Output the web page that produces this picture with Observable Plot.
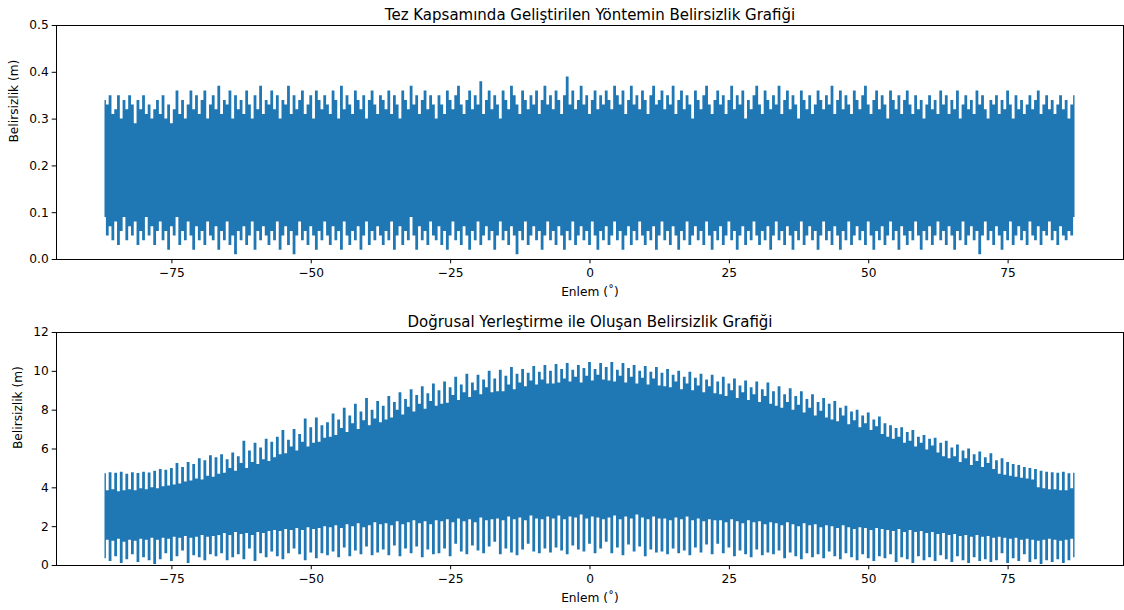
<!DOCTYPE html>
<html>
<head>
<meta charset="utf-8">
<script src="https://cdn.jsdelivr.net/npm/d3@7"></script>
<script src="https://cdn.jsdelivr.net/npm/@observablehq/plot@0.6"></script>
<style>
  html, body { margin: 0; padding: 0; background: #fff; }
  svg { display: block; }
</style>
</head>
<body>
<script>
// Latitude range covered by both uncertainty series (degrees)
const latStart = -87;
const latEnd = 87;

const xTicks = [-75, -50, -25, 0, 25, 50, 75];
const methodYTicks = [0, 0.1, 0.2, 0.3, 0.4, 0.5];
const linearYTicks = [0, 2, 4, 6, 8, 10, 12];

// Developed method: local maxima and minima of the uncertainty (m), every 0.5°
const methodPeakHigh = [
  0.34,0.33,0.35,0.31,0.32,0.35,0.30,0.34,0.32,0.35,0.33,0.29,0.34,0.32,0.35,0.31,0.33,0.30,0.32,0.34,
  0.31,0.35,0.30,0.33,0.29,0.32,0.36,0.31,0.34,0.30,0.33,0.36,0.32,0.35,0.31,0.34,0.36,0.30,0.33,0.35,
  0.32,0.37,0.31,0.34,0.33,0.36,0.30,0.35,0.32,0.34,0.31,0.36,0.33,0.30,0.35,0.32,0.37,0.31,0.34,0.33,
  0.36,0.32,0.35,0.30,0.34,0.33,0.37,0.31,0.35,0.32,0.34,0.36,0.31,0.33,0.35,0.30,0.36,0.34,0.32,0.35,
  0.33,0.31,0.36,0.34,0.30,0.37,0.32,0.35,0.33,0.31,0.36,0.34,0.32,0.35,0.30,0.34,0.36,0.33,0.31,0.35,
  0.34,0.32,0.36,0.31,0.35,0.33,0.30,0.36,0.34,0.32,0.37,0.33,0.35,0.31,0.34,0.36,0.32,0.35,0.33,0.30,
  0.35,0.33,0.31,0.36,0.34,0.32,0.35,0.37,0.33,0.31,0.34,0.36,0.32,0.35,0.33,0.38,0.31,0.34,0.36,0.32,
  0.35,0.33,0.30,0.36,0.34,0.32,0.37,0.35,0.33,0.31,0.36,0.34,0.32,0.35,0.33,0.36,0.31,0.34,0.37,0.33,
  0.35,0.32,0.36,0.34,0.31,0.35,0.39,0.33,0.36,0.32,0.34,0.37,0.33,0.35,0.31,0.34,0.36,0.32,0.35,0.33,
  0.36,0.34,0.32,0.37,0.35,0.33,0.36,0.31,0.34,0.37,0.33,0.35,0.32,0.36,0.34,0.31,0.35,0.37,0.33,0.34,
  0.36,0.32,0.35,0.33,0.37,0.31,0.34,0.36,0.32,0.35,0.33,0.30,0.36,0.34,0.32,0.35,0.37,0.33,0.31,0.34,
  0.36,0.33,0.35,0.31,0.34,0.37,0.32,0.35,0.33,0.36,0.30,0.34,0.32,0.35,0.37,0.33,0.31,0.36,0.34,0.32,
  0.35,0.33,0.37,0.31,0.34,0.36,0.32,0.35,0.33,0.30,0.36,0.34,0.32,0.35,0.31,0.33,0.36,0.34,0.32,0.35,
  0.33,0.37,0.31,0.34,0.36,0.32,0.35,0.33,0.31,0.36,0.34,0.32,0.35,0.37,0.33,0.31,0.34,0.36,0.32,0.35,
  0.33,0.30,0.36,0.34,0.32,0.35,0.31,0.34,0.36,0.33,0.31,0.35,0.32,0.34,0.30,0.33,0.35,0.32,0.34,0.31,
  0.36,0.33,0.35,0.31,0.34,0.32,0.36,0.30,0.33,0.35,0.32,0.34,0.31,0.36,0.33,0.35,0.32,0.30,0.34,0.33,
  0.35,0.31,0.34,0.32,0.36,0.33,0.30,0.35,0.32,0.34,0.31,0.33,0.35,0.32,0.34,0.36,0.31,0.33,0.35,0.32,
  0.34,0.31,0.33,0.35,0.32,0.34,0.30,0.33,0.35
];
const methodPeakLow = [
  0.09,0.05,0.07,0.04,0.08,0.03,0.06,0.09,0.04,0.07,0.05,0.08,0.03,0.06,0.04,0.09,0.05,0.07,0.03,0.06,
  0.08,0.04,0.06,0.02,0.07,0.05,0.09,0.03,0.06,0.04,0.08,0.05,0.02,0.07,0.04,0.06,0.03,0.08,0.05,0.04,
  0.07,0.02,0.06,0.04,0.08,0.03,0.05,0.01,0.06,0.04,0.07,0.03,0.05,0.08,0.02,0.06,0.04,0.07,0.05,0.03,
  0.06,0.04,0.08,0.02,0.05,0.07,0.03,0.06,0.01,0.05,0.08,0.04,0.06,0.03,0.07,0.05,0.02,0.06,0.04,0.08,
  0.05,0.03,0.07,0.04,0.06,0.02,0.08,0.05,0.03,0.06,0.04,0.07,0.02,0.05,0.08,0.03,0.06,0.04,0.07,0.05,
  0.03,0.06,0.04,0.08,0.02,0.05,0.07,0.03,0.06,0.04,0.09,0.05,0.02,0.07,0.04,0.06,0.03,0.08,0.05,0.04,
  0.07,0.03,0.06,0.02,0.05,0.08,0.04,0.06,0.03,0.07,0.05,0.02,0.06,0.04,0.08,0.03,0.05,0.07,0.04,0.06,
  0.02,0.05,0.08,0.04,0.06,0.03,0.07,0.05,0.01,0.06,0.04,0.08,0.03,0.05,0.07,0.04,0.06,0.02,0.05,0.08,
  0.04,0.06,0.03,0.07,0.05,0.02,0.06,0.04,0.08,0.03,0.05,0.07,0.04,0.06,0.03,0.08,0.05,0.02,0.06,0.04,
  0.07,0.03,0.05,0.08,0.04,0.06,0.02,0.05,0.07,0.03,0.06,0.04,0.08,0.05,0.03,0.06,0.04,0.07,0.02,0.05,
  0.08,0.04,0.06,0.03,0.07,0.05,0.02,0.06,0.04,0.08,0.03,0.05,0.07,0.04,0.06,0.03,0.08,0.05,0.02,0.06,
  0.04,0.07,0.03,0.05,0.08,0.04,0.06,0.02,0.05,0.07,0.03,0.06,0.04,0.08,0.05,0.03,0.06,0.04,0.07,0.02,
  0.05,0.08,0.04,0.06,0.03,0.07,0.05,0.02,0.06,0.04,0.08,0.03,0.05,0.07,0.04,0.06,0.02,0.05,0.08,0.04,
  0.06,0.03,0.07,0.05,0.02,0.06,0.04,0.08,0.03,0.05,0.07,0.04,0.06,0.03,0.08,0.05,0.02,0.06,0.04,0.07,
  0.03,0.05,0.08,0.04,0.06,0.02,0.07,0.05,0.03,0.06,0.04,0.08,0.05,0.02,0.06,0.04,0.07,0.03,0.05,0.08,
  0.04,0.06,0.03,0.07,0.05,0.02,0.06,0.04,0.08,0.03,0.05,0.07,0.04,0.06,0.01,0.05,0.08,0.04,0.06,0.03,
  0.07,0.05,0.02,0.06,0.04,0.08,0.03,0.05,0.07,0.04,0.06,0.03,0.08,0.05,0.04,0.07,0.03,0.06,0.05,0.08,
  0.04,0.06,0.03,0.07,0.05,0.04,0.06,0.05,0.09
];

// Linear placement: local maxima and minima of the uncertainty (m), every 0.5°
const linearPeakHigh = [
  4.72,3.85,4.78,3.90,4.75,3.80,4.80,3.85,4.70,3.90,4.78,3.85,4.74,3.95,4.80,3.90,4.76,4.00,4.85,3.95,
  4.95,4.05,4.90,4.10,5.00,4.15,5.25,4.20,5.05,4.30,5.30,4.35,5.20,4.45,5.50,4.40,5.40,4.60,5.65,4.55,
  5.55,4.70,5.70,4.75,5.45,5.00,5.80,4.85,5.60,5.25,6.40,5.00,5.90,5.30,6.30,5.20,6.05,5.45,6.50,5.35,
  6.35,5.55,6.60,5.70,6.95,5.75,6.45,6.10,7.00,5.90,6.75,6.35,7.55,6.10,7.10,6.30,7.60,6.35,7.20,6.55,
  7.35,6.60,7.80,6.70,7.50,7.05,8.10,6.85,7.70,7.30,8.30,7.00,7.90,7.45,8.60,7.20,8.00,7.55,8.45,7.35,
  8.20,7.50,8.70,7.60,8.40,8.00,8.90,7.75,8.55,8.15,9.05,7.90,8.75,8.30,9.20,8.05,8.85,8.45,9.35,8.20,
  9.00,8.30,9.45,8.35,9.15,8.75,9.70,8.50,9.30,8.90,9.85,8.65,9.40,9.00,9.80,8.80,9.55,9.15,10.00,8.90,
  9.60,8.95,10.05,8.95,9.75,9.30,10.20,9.05,9.85,9.40,10.10,9.20,9.90,9.50,10.25,9.30,9.95,9.55,10.30,9.35,
  10.00,9.35,10.35,9.40,10.10,9.60,10.40,9.45,10.05,9.70,10.30,9.40,10.15,9.75,10.45,9.50,10.10,9.80,10.40,9.55,
  10.20,9.50,10.45,9.45,10.05,9.75,10.40,9.40,10.15,9.70,10.30,9.35,10.00,9.65,10.25,9.30,9.95,9.60,10.20,9.25,
  9.90,9.20,10.10,9.15,9.80,9.45,10.00,9.05,9.70,9.35,9.95,9.00,9.65,9.25,9.85,8.90,9.55,9.20,9.80,8.85,
  9.45,8.80,9.70,8.70,9.35,9.00,9.60,8.60,9.25,8.90,9.50,8.50,9.15,8.80,9.45,8.40,9.05,8.70,9.40,8.30,
  8.95,8.20,9.20,8.10,8.80,8.40,9.10,8.00,8.70,8.25,8.95,7.85,8.55,8.10,8.80,7.70,8.40,7.95,8.60,7.60,
  8.30,7.50,8.45,7.40,8.10,7.70,8.20,7.25,7.90,7.45,8.00,7.10,7.70,7.30,7.85,6.95,7.50,7.15,7.65,6.75,
  7.30,6.60,7.20,6.50,7.05,6.60,7.10,6.30,6.85,6.40,6.95,6.10,6.60,6.30,6.70,5.95,6.50,6.15,6.55,5.80,
  6.30,5.60,6.40,5.50,6.05,5.60,6.20,5.30,5.90,5.50,6.00,5.15,5.70,5.35,5.85,5.05,5.55,5.25,5.75,4.95,
  5.40,4.70,5.50,4.65,5.30,4.60,5.20,4.55,5.15,4.50,5.05,4.45,5.00,4.40,4.95,4.00,4.85,3.95,4.80,3.90,
  4.78,3.90,4.75,3.85,4.80,3.85,4.72,3.95,4.75
];
const linearPeakLow = [
  0.35,1.30,0.20,1.25,0.45,1.35,0.10,1.20,0.30,1.30,0.55,1.25,0.15,1.35,0.40,1.30,0.25,1.40,0.05,1.30,
  0.30,1.40,0.60,1.35,0.20,1.45,0.45,1.40,0.75,1.50,0.10,1.40,0.50,1.45,0.40,1.55,0.25,1.45,0.55,1.50,
  0.45,1.55,0.60,1.65,0.25,1.55,0.40,1.70,0.55,1.60,0.30,1.65,0.85,1.55,0.20,1.70,0.60,1.65,0.40,1.75,
  0.70,1.80,0.45,1.75,0.30,1.85,0.60,1.80,0.85,1.90,0.55,1.80,0.25,1.95,0.65,1.85,0.35,1.90,0.60,2.00,
  0.50,1.95,0.70,2.05,0.40,1.90,0.90,2.10,0.45,2.00,0.75,2.15,0.55,1.95,0.95,2.05,0.50,2.20,0.65,2.10,
  0.80,2.15,0.50,2.05,1.00,2.25,0.45,2.10,0.85,2.20,0.60,2.30,0.95,2.15,0.40,2.25,0.80,2.10,0.55,2.30,
  0.60,2.25,0.85,2.35,0.45,2.20,1.10,2.40,0.70,2.25,0.55,2.35,1.00,2.20,0.75,2.45,0.60,2.30,0.95,2.35,
  1.20,2.40,0.55,2.30,0.85,2.50,0.65,2.35,0.50,2.45,0.80,2.30,1.10,2.55,0.70,2.40,0.60,2.35,0.85,2.50,
  0.65,2.40,0.90,2.55,0.75,2.35,0.55,2.50,1.00,2.45,0.80,2.60,0.70,2.40,1.10,2.50,0.60,2.45,0.85,2.35,
  1.20,2.45,0.60,2.55,0.90,2.35,0.50,2.50,1.05,2.40,0.70,2.60,0.95,2.45,0.45,2.35,0.80,2.50,0.65,2.40,
  0.70,2.40,0.55,2.30,0.85,2.45,0.60,2.35,0.75,2.50,0.50,2.30,0.90,2.40,0.65,2.25,1.05,2.35,0.55,2.30,
  1.10,2.30,0.60,2.20,0.90,2.35,0.45,2.25,0.75,2.15,0.55,2.30,0.40,2.20,0.80,2.25,0.50,2.10,0.65,2.20,
  0.55,2.15,0.75,2.05,0.35,2.20,0.65,2.10,0.45,2.00,0.30,2.15,0.60,2.05,0.40,2.10,0.55,1.95,0.35,2.05,
  0.70,2.00,0.45,1.90,0.30,2.05,0.60,1.95,0.40,1.85,0.25,1.95,0.55,1.90,0.35,1.80,0.20,1.90,0.45,1.85,
  0.35,1.80,0.55,1.75,0.15,1.85,0.40,1.70,0.30,1.80,0.10,1.70,0.45,1.75,0.25,1.65,0.40,1.70,0.20,1.60,
  0.50,1.65,0.30,1.55,0.15,1.60,0.45,1.50,0.25,1.55,0.10,1.45,0.40,1.55,0.20,1.45,0.30,1.50,0.15,1.40,
  0.25,1.45,0.60,1.40,0.10,1.35,0.35,1.40,0.20,1.30,0.55,1.35,0.15,1.30,0.30,1.25,0.05,1.30,0.25,1.35,
  0.15,1.30,0.30,1.25,0.10,1.30,0.25,1.35,0.40
];

const lineColor = "#1f77b4";
const fontFamily = "DejaVu Sans";

// Spread a value list evenly over the latitude range
function sampled(high, low) {
  const n = high.length;
  return high.map((h, i) => ({
    lat: latStart + i * (latEnd - latStart) / (n - 1),
    hi: h,
    lo: low[i]
  }));
}

const minusFormat = d => (d < 0 ? "\u2212" + Math.abs(d) : String(d));

function panel({title, peakHigh, peakLow, yDomain, yTicks, yFormat, yLabelDx, marginTop, marginBottom}) {
  const samples = sampled(peakHigh, peakLow);
  return Plot.plot({
    width: 1124,
    height: 305,
    marginLeft: 56,
    marginRight: 1,
    marginTop,
    marginBottom,
    style: {fontFamily, fontSize: "12.2px", color: "black", background: "white", overflow: "visible"},
    x: {domain: [-95.7, 95.7], ticks: xTicks, tickFormat: minusFormat, tickSize: 4.3, tickPadding: 5, label: null},
    y: {domain: yDomain, ticks: yTicks, tickFormat: yFormat, tickSize: 4.3, tickPadding: 3.5, label: null},
    marks: [
      // oscillation envelope: each 0.5° sample spans its minimum to its maximum
      Plot.areaY(samples, {x: "lat", y1: "lo", y2: "hi", fill: lineColor, curve: "step"}),
      Plot.frame({stroke: "black", strokeWidth: 1}),
      Plot.text([title], {text: d => d, frameAnchor: "top", lineAnchor: "bottom", dy: -6, fontSize: 15}),
      Plot.text(["Enlem (\u02DA)"], {text: d => d, frameAnchor: "bottom", lineAnchor: "middle", dy: 33}),
      Plot.text(["Belirsizlik (m)"], {text: d => d, frameAnchor: "left", lineAnchor: "middle", rotate: -90, dx: yLabelDx})
    ]
  });
}

document.body.append(panel({
  title: "Tez Kapsamında Geliştirilen Yöntemin Belirsizlik Grafiği",
  peakHigh: methodPeakHigh,
  peakLow: methodPeakLow,
  yDomain: [0, 0.5],
  yTicks: methodYTicks,
  yFormat: d3.format(".1f"),
  yLabelDx: -42,
  marginTop: 25,
  marginBottom: 46
}));

document.body.append(panel({
  title: "Doğrusal Yerleştirme ile Oluşan Belirsizlik Grafiği",
  peakHigh: linearPeakHigh,
  peakLow: linearPeakLow,
  yDomain: [0, 12],
  yTicks: linearYTicks,
  yFormat: d => String(d),
  yLabelDx: -38,
  marginTop: 27,
  marginBottom: 45
}));
</script>
</body>
</html>
